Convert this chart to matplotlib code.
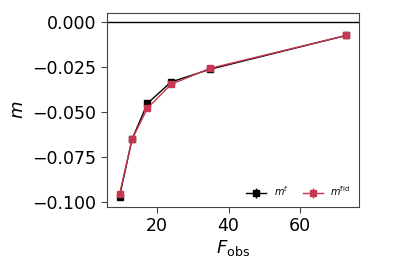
import matplotlib
matplotlib.use("Agg")
import matplotlib.pyplot as plt
import numpy as np

F_obs = [9.5, 13.0, 17.3, 23.9, 34.8, 72.9]
m_t = [-0.0970, -0.0652, -0.0452, -0.0333, -0.0262, -0.0074]
m_fid = [-0.0958, -0.0652, -0.0479, -0.0346, -0.0257, -0.0074]
err_t = [0.0008, 0.0006, 0.0006, 0.0006, 0.0006, 0.0006]
err_fid = [0.0008, 0.0006, 0.0006, 0.0006, 0.0006, 0.0006]

fig = plt.figure(figsize=(3.99, 2.66), dpi=100)
ax = fig.add_axes([107/399, 1-207/266, (359-107)/399, (207-13)/266])

ax.axhline(0, color='black', lw=1)
ax.errorbar(F_obs, m_t, yerr=err_t, color='black', marker='s', ms=4, lw=1,
            label=r'$m^{t}$')
ax.errorbar(F_obs, m_fid, yerr=err_fid, color='#c8374f', marker='s', ms=4, lw=1,
            label=r'$m^{\rm fid}$')

ax.set_xlim(6.0, 76.5)
ax.set_ylim(-0.1028, 0.0051)
ax.set_xticks([20, 40, 60])
ax.set_yticks([0.0, -0.025, -0.05, -0.075, -0.1])
ax.set_yticklabels(['0.000', '\u22120.025', '\u22120.050', '\u22120.075', '\u22120.100'])
ax.tick_params(labelsize=12.5, length=4, color='#444444')
for s in ax.spines.values():
    s.set_color('#444444')
ax.set_xlabel(r'$F_{\rm obs}$', fontsize=13, labelpad=2)
ax.set_ylabel(r'$m$', fontsize=13, labelpad=4)
ax.legend(loc='lower right', ncol=2, frameon=False, fontsize=7, handlelength=2,
          columnspacing=1.5)

fig.savefig('out.png', dpi=100)
